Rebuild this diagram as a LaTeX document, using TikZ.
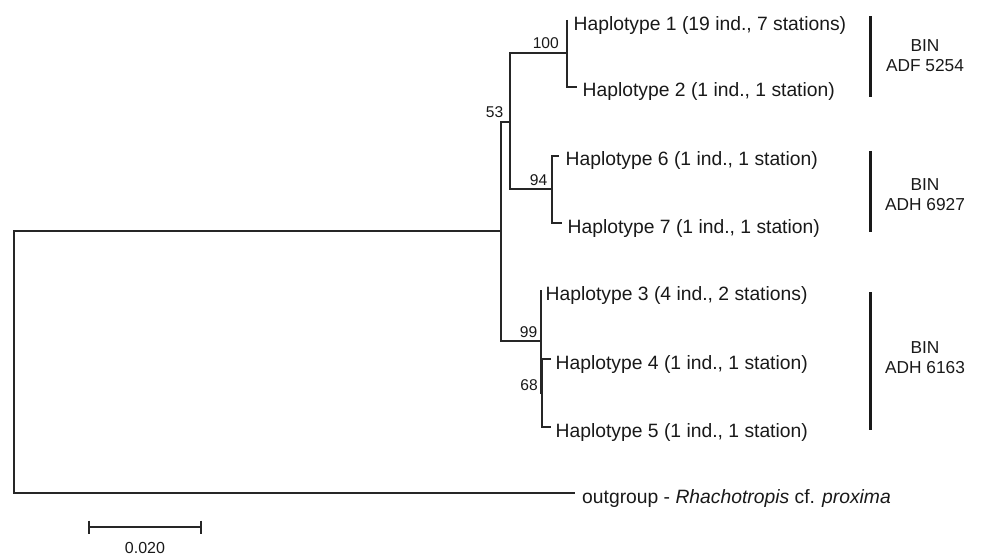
\documentclass[tikz,border=0pt]{standalone}
\usepackage{fontspec}
\setmainfont{Liberation Sans}
\begin{document}
\begin{tikzpicture}[x=1pt,y=-1pt,
  br/.style={draw=black!85, line width=1.2pt},
  leaf/.style={anchor=base west, inner sep=0pt, text=black!90, font=\fontsize{19.3}{23}\selectfont},
  boot/.style={anchor=base east, inner sep=0pt, text=black!90, font=\fontsize{15.6}{18}\selectfont},
  binbar/.style={draw=black!90, line width=3pt},
  binlab/.style={align=center, inner sep=0pt, text=black!90, font=\fontsize{17.3}{20}\selectfont},
]
\useasboundingbox (0,0) rectangle (984,556);

% internal nodes
\coordinate (root) at (14,362);
\coordinate (n1)   at (501,231);
\coordinate (n53)  at (510,122);
\coordinate (n100) at (567,53);
\coordinate (n94)  at (552,189);
\coordinate (n99)  at (541,341);
\coordinate (n68)  at (542,393);
% leaf ends
\coordinate (l1) at (567,20);
\coordinate (l2) at (577,87);
\coordinate (l6) at (559,156);
\coordinate (l7) at (562,223);
\coordinate (l3) at (541,290);
\coordinate (l4) at (551,359);
\coordinate (l5) at (551,427);
\coordinate (lo) at (575,493);

% branches
\draw[br] (n1) -| (root) |- (lo);
\draw[br] (n53) -| (n1) |- (n99);
\draw[br] (n100) -| (n53) |- (n94);
\draw[br] (l1) -- (n100) |- (l2);
\draw[br] (l6) -| (n94) |- (l7);
\draw[br] (l3) -- (n99) |- (n68);
\draw[br] (l4) -| (n68) |- (l5);

% leaf labels
\node[leaf] (t1) at ([xshift=6.5pt,yshift=-10.5pt]l1) {Haplotype 1 (19 ind., 7 stations)};
\node[leaf] (t2) at ([xshift=5.5pt,yshift=-10pt]l2) {Haplotype 2 (1 ind., 1 station)};
\node[leaf] (t6) at ([xshift=6.5pt,yshift=-10pt]l6) {Haplotype 6 (1 ind., 1 station)};
\node[leaf] (t7) at ([xshift=5.5pt,yshift=-10pt]l7) {Haplotype 7 (1 ind., 1 station)};
\node[leaf] (t3) at ([xshift=4.5pt,yshift=-10pt]l3) {Haplotype 3 (4 ind., 2 stations)};
\node[leaf] (t4) at ([xshift=4.5pt,yshift=-10pt]l4) {Haplotype 4 (1 ind., 1 station)};
\node[leaf] (t5) at ([xshift=4.5pt,yshift=-10pt]l5) {Haplotype 5 (1 ind., 1 station)};
\node[leaf] (to) at ([xshift=7pt,yshift=-10pt]lo) {outgroup - \textit{Rhachotropis} cf. \textit{proxima}};

% bootstrap values
\node[boot] (b100) at ([xshift=-8pt,yshift=4.5pt]n100) {100};
\node[boot] (b53)  at ([xshift=-6.5pt,yshift=4.5pt]n53) {53};
\node[boot] (b94)  at ([xshift=-4.5pt,yshift=3.5pt]n94) {94};
\node[boot] (b99)  at ([xshift=-3.5pt,yshift=3.5pt]n99) {99};
\node[boot] (b68)  at ([xshift=-4pt,yshift=2.5pt]n68) {68};

% BIN bars and labels
\coordinate (ba1) at (870,16.5); \coordinate (bb1) at (870,97);
\coordinate (ba2) at (870,151);  \coordinate (bb2) at (870,232);
\coordinate (ba3) at (870,292);  \coordinate (bb3) at (870,430);
\draw[binbar] (ba1) -- (bb1);
\draw[binbar] (ba2) -- (bb2);
\draw[binbar] (ba3) -- (bb3);
\node[binlab] (bin1) at (925,56)  {BIN\\ADF 5254};
\node[binlab] (bin2) at (925,195) {BIN\\ADH 6927};
\node[binlab] (bin3) at (925,358) {BIN\\ADH 6163};

% scale bar
\coordinate (s1) at (89,527);
\coordinate (s2) at (201,527);
\draw[br, line width=1.1pt] (s1) -- (s2);
\draw[br, line width=1.1pt] ([yshift=6.5pt]s1) -- ([yshift=-6.5pt]s1);
\draw[br, line width=1.1pt] ([yshift=6.5pt]s2) -- ([yshift=-6.5pt]s2);
\node[anchor=base, inner sep=0pt, text=black!90, font=\fontsize{16}{19}\selectfont] (sl) at (145,553) {0.020};
\end{tikzpicture}
\end{document}
